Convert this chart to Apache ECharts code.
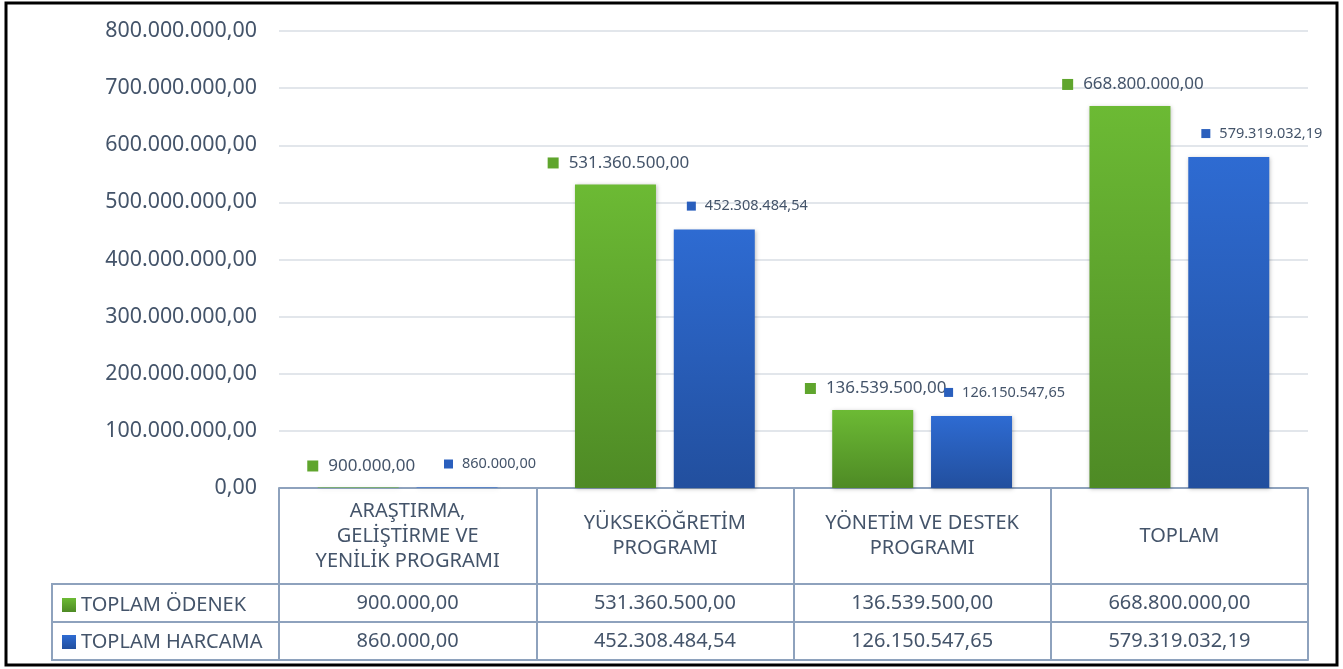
<!DOCTYPE html>
<html>
<head>
<meta charset="utf-8">
<script src="https://cdn.jsdelivr.net/npm/echarts@6/dist/echarts.min.js"></script>
<style>html,body{margin:0;padding:0;background:#fff}#c{width:1343px;height:669px}</style>
</head>
<body>
<div id="c"></div>
<script>
var categories = ['ARAŞTIRMA,\nGELİŞTİRME VE\nYENİLİK PROGRAMI', 'YÜKSEKÖĞRETİM\nPROGRAMI', 'YÖNETİM VE DESTEK\nPROGRAMI', 'TOPLAM'];
var seriesNames = ['TOPLAM ÖDENEK', 'TOPLAM HARCAMA'];
var odenek = [900000, 531360500, 136539500, 668800000];
var harcama = [860000, 452308484.54, 126150547.65, 579319032.19];
var yMin = 0, yMax = 800000000, yStep = 100000000;

function fmt(v) {
  var s = Number(v).toFixed(2).split('.');
  return s[0].replace(/\B(?=(\d{3})+(?!\d))/g, '.') + ',' + s[1];
}

var FONT = 'Noto Sans';
var TXT = '#44546a';
var LINE = '#8ea2bd';
var greenGrad = new echarts.graphic.LinearGradient(0, 0, 0, 1, [{offset: 0, color: '#6cba34'}, {offset: 1, color: '#4e8a25'}]);
var blueGrad = new echarts.graphic.LinearGradient(0, 0, 0, 1, [{offset: 0, color: '#2e6bd2'}, {offset: 1, color: '#224f9e'}]);

function rowAxis(offset, values, showLabel) {
  return {
    type: 'category', data: categories, position: 'bottom', offset: offset,
    axisLine: {show: true, lineStyle: {color: LINE, width: 2}},
    axisTick: {show: false},
    axisLabel: {
      show: showLabel, interval: 0, margin: 19, verticalAlign: 'middle',
      fontFamily: FONT, fontSize: 20, color: TXT,
      formatter: function (v, i) { return values ? fmt(values[i]) : ''; }
    }
  };
}

var chart = echarts.init(document.getElementById('c'), null, {renderer: 'canvas'});
chart.setOption({
  animation: false,
  backgroundColor: '#fff',
  grid: {left: 279, right: 35, top: 31, bottom: 181, containLabel: false},
  legend: {
    orient: 'vertical', left: 57, top: 590, itemWidth: 14, itemHeight: 14, itemGap: 17,
    icon: 'rect',
    textStyle: {fontFamily: FONT, fontSize: 20, color: TXT, padding: [0, 0, 0, 0]},
    data: seriesNames
  },
  xAxis: [
    {
      type: 'category', data: categories, position: 'bottom',
      axisLine: {show: true, lineStyle: {color: LINE, width: 2}},
      axisTick: {show: true, length: 172, interval: 0, lineStyle: {color: LINE, width: 2}},
      axisLabel: {
        interval: 0, margin: 48, verticalAlign: 'middle', align: 'center',
        fontFamily: FONT, fontSize: 20, lineHeight: 25, color: TXT
      }
    },
    rowAxis(96, odenek, true),
    rowAxis(134, harcama, true),
    rowAxis(172, null, false)
  ],
  yAxis: {
    type: 'value', min: yMin, max: yMax, interval: yStep,
    axisLine: {show: false}, axisTick: {show: false},
    axisLabel: {margin: 22, fontFamily: FONT, fontSize: 21.4, color: TXT, formatter: fmt},
    splitLine: {lineStyle: {color: '#d9dee5', width: 1.5}}
  },
  series: [
    {
      name: seriesNames[0], type: 'bar', data: odenek, barWidth: 81, barGap: '22%',
      itemStyle: {color: greenGrad, shadowColor: 'rgba(0,0,0,0.25)', shadowBlur: 4, shadowOffsetX: 1, shadowOffsetY: 1},
      label: {
        show: true, position: 'top', distance: 5, offset: [3, -8],
        formatter: function (p) { return '{k|}{v|' + fmt(p.value) + '}'; },
        rich: {
          k: {width: 11, height: 11, backgroundColor: '#5fa52d'},
          v: {fontFamily: FONT, fontSize: 17, color: TXT, padding: [0, 0, 0, 10]}
        }
      }
    },
    {
      name: seriesNames[1], type: 'bar', data: harcama, barWidth: 81,
      itemStyle: {color: blueGrad, shadowColor: 'rgba(0,0,0,0.25)', shadowBlur: 4, shadowOffsetX: 1, shadowOffsetY: 1},
      label: {
        show: true, position: 'top', distance: 5, offset: [33, -11],
        formatter: function (p) { return '{k|}{v|' + fmt(p.value) + '}'; },
        rich: {
          k: {width: 9, height: 9, backgroundColor: '#2a5fbd'},
          v: {fontFamily: FONT, fontSize: 14.5, color: TXT, padding: [0, 0, 0, 9]}
        }
      }
    }
  ],
  graphic: [
    {type: 'line', shape: {x1: 52, y1: 584, x2: 279, y2: 584}, style: {stroke: LINE, lineWidth: 2}},
    {type: 'line', shape: {x1: 52, y1: 622, x2: 279, y2: 622}, style: {stroke: LINE, lineWidth: 2}},
    {type: 'line', shape: {x1: 52, y1: 660, x2: 279, y2: 660}, style: {stroke: LINE, lineWidth: 2}},
    {type: 'line', shape: {x1: 52, y1: 583, x2: 52, y2: 661}, style: {stroke: LINE, lineWidth: 2}},
    {type: 'rect', shape: {x: 6, y: 3, width: 1331, height: 662}, style: {fill: 'none', stroke: '#000', lineWidth: 3}, z: 100}
  ]
});
</script>
</body>
</html>
